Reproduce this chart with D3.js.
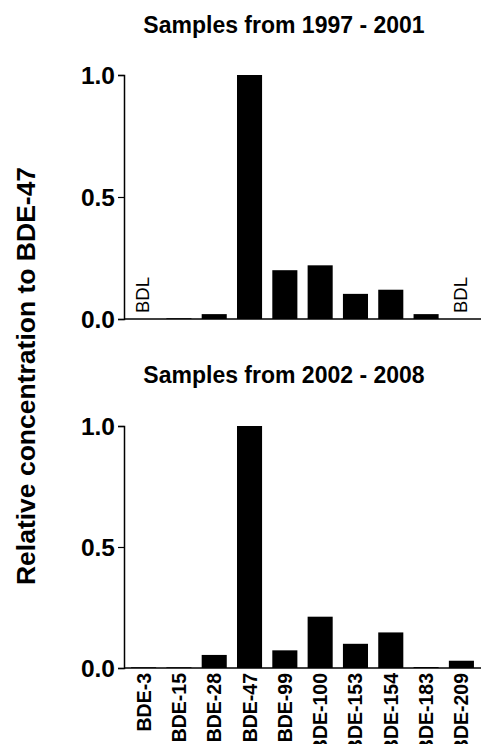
<!DOCTYPE html>
<html><head><meta charset="utf-8">
<script src="https://cdn.jsdelivr.net/npm/d3@7"></script>
<style>body{margin:0;background:#fff}svg{display:block;font-family:"Liberation Sans",Arial,sans-serif}</style>
</head><body>
<script>
const categories = ["BDE-3","BDE-15","BDE-28","BDE-47","BDE-99","BDE-100","BDE-153","BDE-154","BDE-183","BDE-209"];
const values1997 = [0, 0.003, 0.02, 1.0, 0.20, 0.22, 0.103, 0.12, 0.02, 0];
const bdl1997 = ["BDE-3","BDE-209"];
const values2002 = [0.003, 0.003, 0.054, 1.0, 0.073, 0.212, 0.10, 0.147, 0.004, 0.03];
const yTicks = [0, 0.5, 1.0];
const titles = ["Samples from 1997 - 2001", "Samples from 2002 - 2008"];

const W = 481, H = 744;
const FONT = "'Liberation Sans',Arial,sans-serif";
const svg = d3.select("body").append("svg").attr("width", W).attr("height", H);

const x = d3.scaleBand().domain(categories).range([124, 481]).paddingInner(0.29).paddingOuter(0.2);

function panel(vals, top, bottom, title, titleY, bdl, showX) {
  const y = d3.scaleLinear().domain([0, 1]).range([bottom, top]);
  const g = svg.append("g");
  g.append("text").attr("x", 284).attr("y", titleY).attr("text-anchor", "middle")
    .attr("font-size", 23).attr("font-weight", "bold").text(title);
  g.selectAll("rect").data(categories).enter().append("rect")
    .attr("x", d => x(d)).attr("width", x.bandwidth())
    .attr("y", (d, i) => y(vals[i])).attr("height", (d, i) => bottom - y(vals[i]))
    .attr("fill", "#000");
  const ya = g.append("g").attr("transform", "translate(124,0)")
    .call(d3.axisLeft(y).tickValues(yTicks).tickFormat(d3.format(".1f")).tickSize(6).tickPadding(3));
  ya.select(".domain").attr("stroke-width", 1.5);
  ya.selectAll(".tick line").attr("stroke-width", 1.2);
  ya.selectAll("text").attr("font-size", 24.5).attr("font-weight", "bold").attr("fill", "#000")
    .attr("dy", "0.36em").style("font-family", FONT);
  const xa = g.append("g").attr("transform", `translate(0,${bottom})`)
    .call(d3.axisBottom(x).tickSize(0).tickFormat(showX ? (d => d) : ""));
  xa.select(".domain").attr("stroke-width", 1.5).attr("d", "M124,0H481");
  xa.selectAll("text").attr("font-size", 19.5).attr("font-weight", "bold").attr("fill", "#000")
    .attr("transform", "rotate(-90)").attr("text-anchor", "end")
    .attr("x", -5).attr("y", 0).attr("dy", "0.36em")
    .style("font-family", FONT);
  g.selectAll(".bdl").data(bdl).enter().append("text").attr("class", "bdl")
    .attr("transform", d => `translate(${x(d) + x.bandwidth() / 2 - 1},${bottom - 6}) rotate(-90)`)
    .attr("dy", "0.36em").attr("font-size", 18.5).text("BDL");
}

panel(values1997, 75, 319, titles[0], 33, bdl1997, false);
panel(values2002, 426, 668, titles[1], 383, [], true);

svg.append("text").attr("transform", "translate(25,376) rotate(-90)")
  .attr("text-anchor", "middle").attr("dy", "0.36em")
  .attr("font-size", 26.5).attr("font-weight", "bold").text("Relative concentration to BDE-47");
</script>
</body></html>
